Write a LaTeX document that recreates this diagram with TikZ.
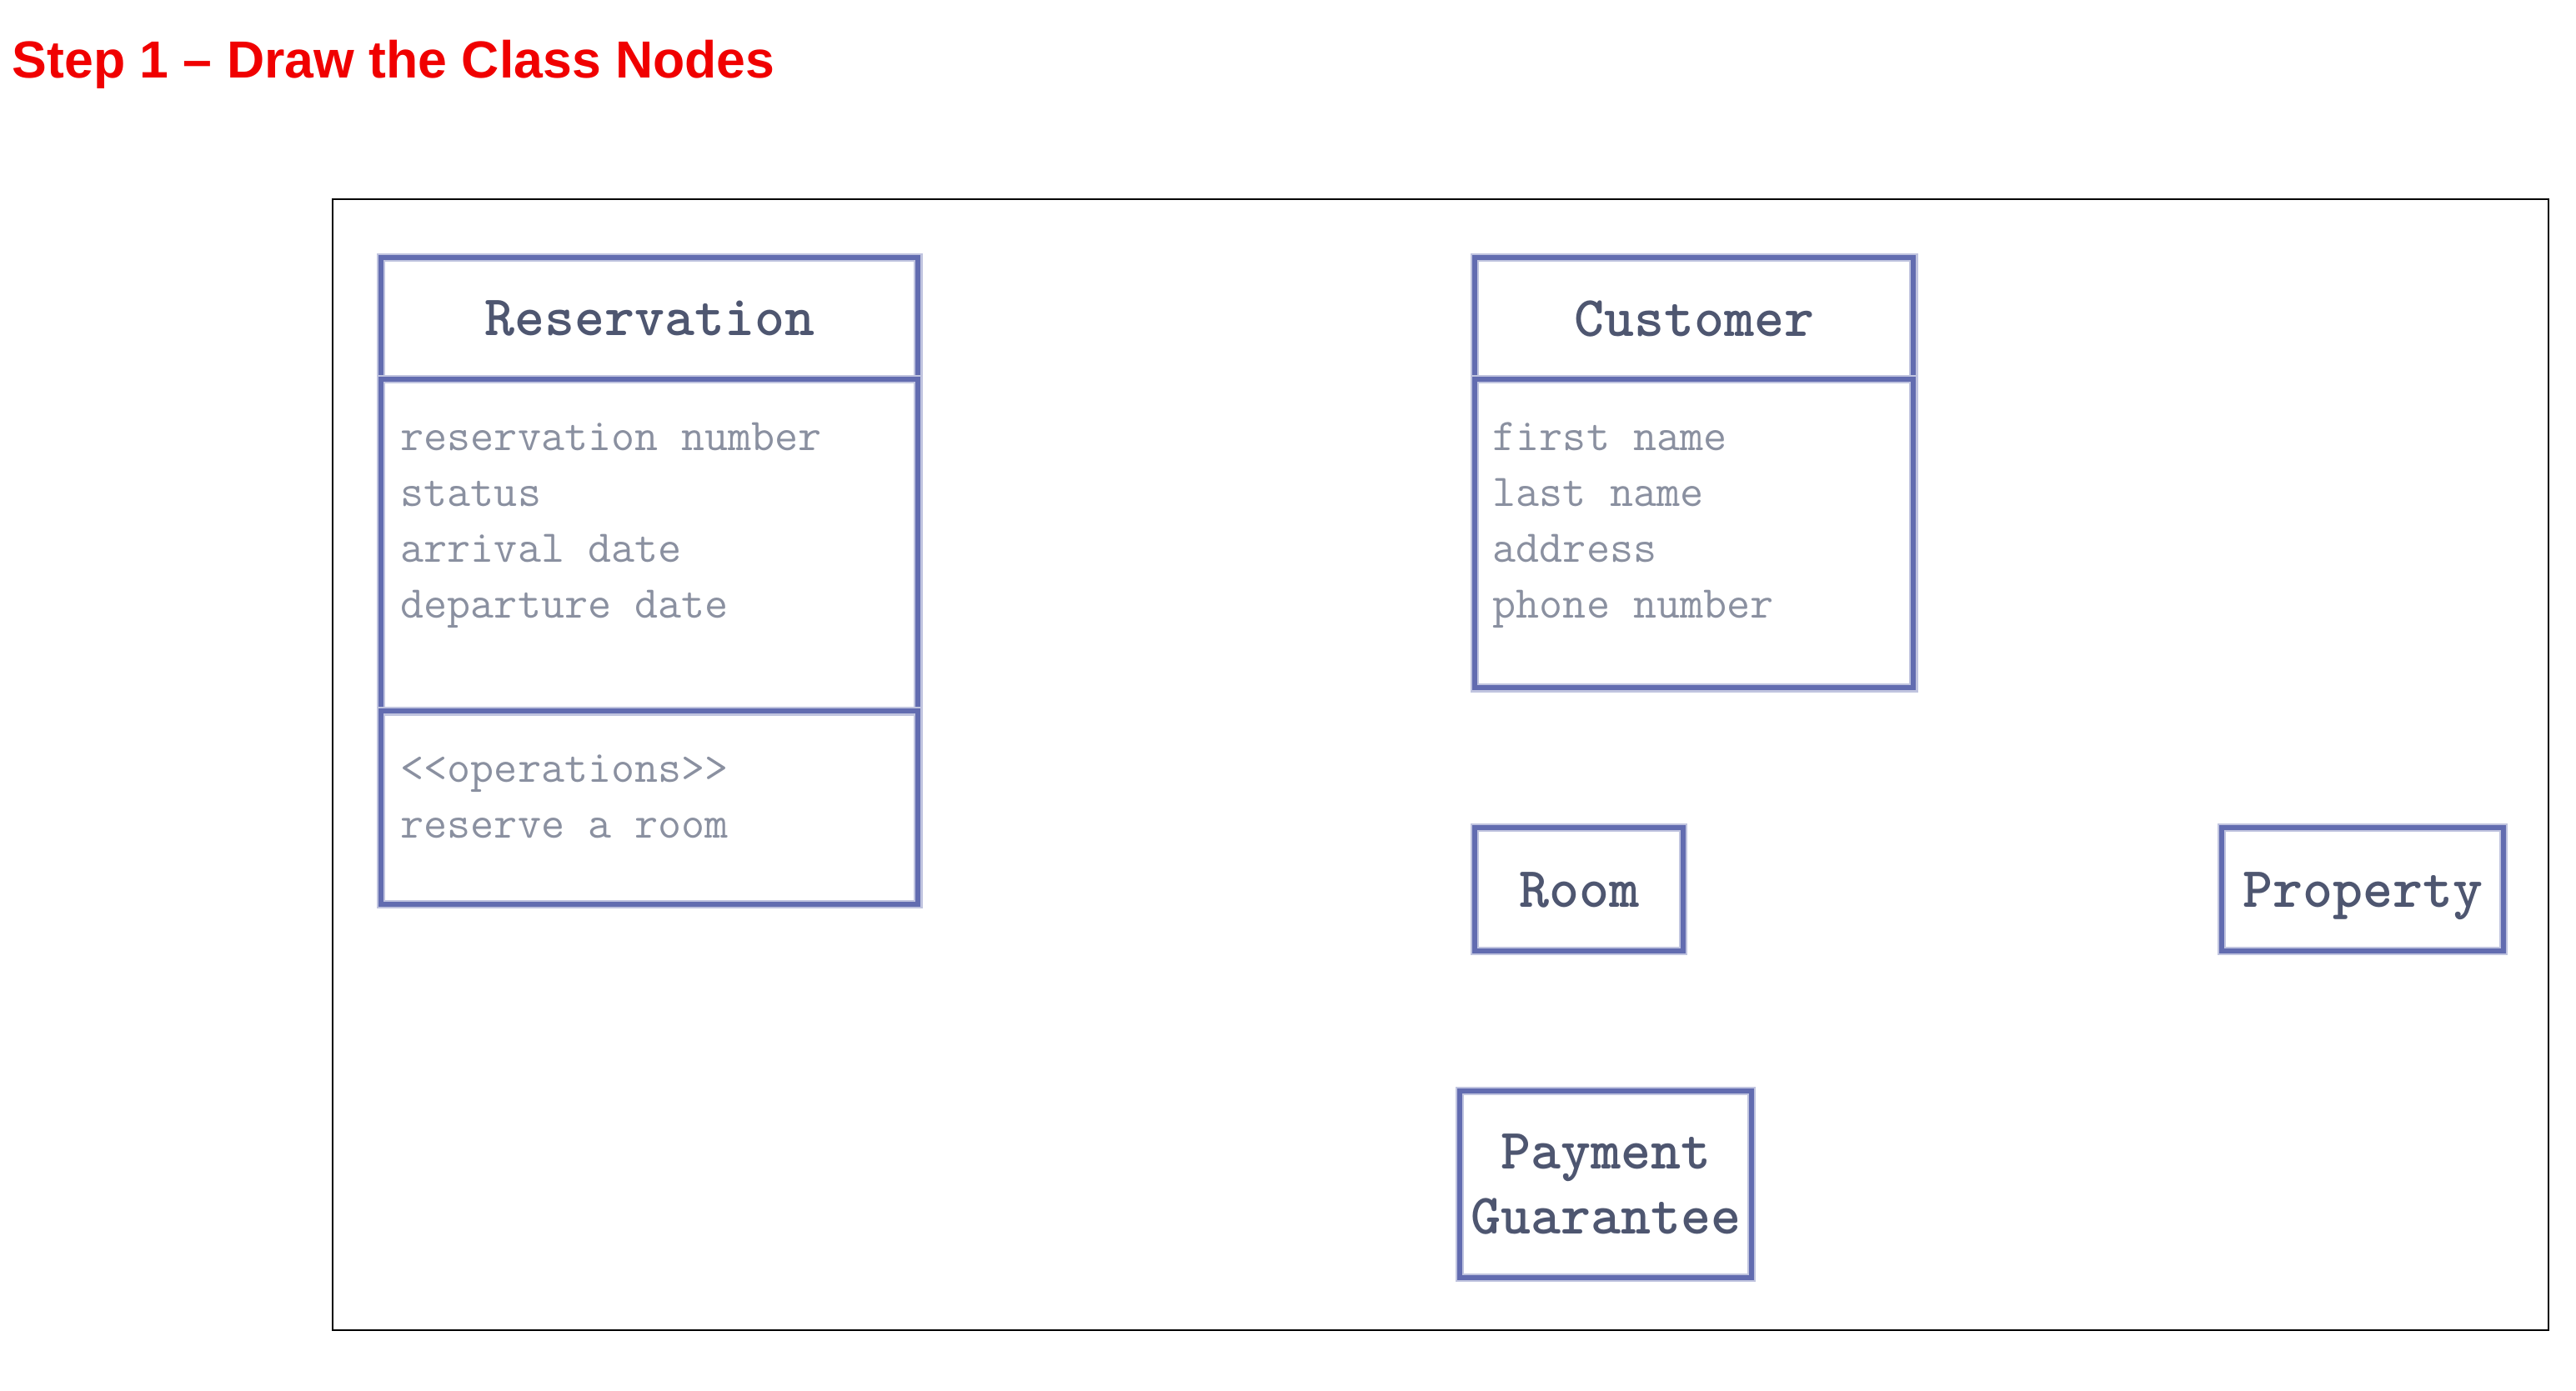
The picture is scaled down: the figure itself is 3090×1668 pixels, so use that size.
\documentclass[tikz,border=0pt]{standalone}
\usepackage{fontspec}
\setmainfont{Liberation Sans}

\definecolor{umlblue}{RGB}{98,108,176}
\definecolor{umlhead}{RGB}{78,86,112}
\definecolor{umlattr}{RGB}{138,144,160}
\definecolor{steptitle}{RGB}{240,0,0}

\tikzset{
  classbox/.style={draw=umlblue, line width=1.7pt, preaction={draw=umlblue!40, line width=3pt},
    inner sep=0pt, anchor=north west},
  classname/.style={font=\ttfamily\bfseries\fontsize{19.5}{22}\selectfont, text=umlhead, align=center},
  classattr/.style={font=\ttfamily\fontsize{15.5}{19}\selectfont, text=umlattr, anchor=base west, inner sep=0pt},
}

\begin{document}
\begin{tikzpicture}[x=0.01cm, y=-0.01cm]
\useasboundingbox (0,0) rectangle (3090,1668);

%Title
\node[anchor=base west, inner sep=0pt, text=steptitle, font=\bfseries\fontsize{17.8}{20}\selectfont] (title) at (14,93) {Step 1 – Draw the Class Nodes};

%Frame round the diagram
\node[draw, line width=0.6pt, anchor=north west, inner sep=0pt, minimum width=26.56cm, minimum height=13.56cm] (frame) at (398,238) {};

%Reservation class
\node[classbox, classname, minimum width=6.44cm, minimum height=1.46cm] (resname) at (454,306) {Reservation};
\node[classbox, minimum width=6.44cm, minimum height=3.98cm] (resattr) at (454,452) {};
\node[classbox, minimum width=6.44cm, minimum height=2.32cm] (resops) at (454,850) {};
\foreach \txt [count=\i from 0] in {reservation number, status, arrival date, departure date}
  \node[classattr] (resattr\i) at (480,{540+67.3*\i}) {\txt};
\foreach \txt [count=\i from 0] in {<<operations>>, reserve a room}
  \node[classattr] (resops\i) at (480,{938+67.3*\i}) {\txt};

%Customer class
\node[classbox, classname, minimum width=5.26cm, minimum height=1.46cm] (custname) at (1766,306) {Customer};
\node[classbox, minimum width=5.26cm, minimum height=3.70cm] (custattr) at (1766,452) {};
\foreach \txt [count=\i from 0] in {first name, last name, address, phone number}
  \node[classattr] (custattr\i) at (1790,{540+67.3*\i}) {\txt};

%Classes with a name only
\node[classbox, classname, text height=12pt, text depth=0pt, minimum width=2.50cm, minimum height=1.48cm] (room) at (1766,990) {Room};
\node[classbox, classname, text height=12pt, text depth=0pt, minimum width=3.38cm, minimum height=1.48cm] (property) at (2662,990) {Property};
\node[classbox, classname, minimum width=3.50cm, minimum height=2.24cm] (payment) at (1748,1306) {Payment\\Guarantee};

\end{tikzpicture}
\end{document}
